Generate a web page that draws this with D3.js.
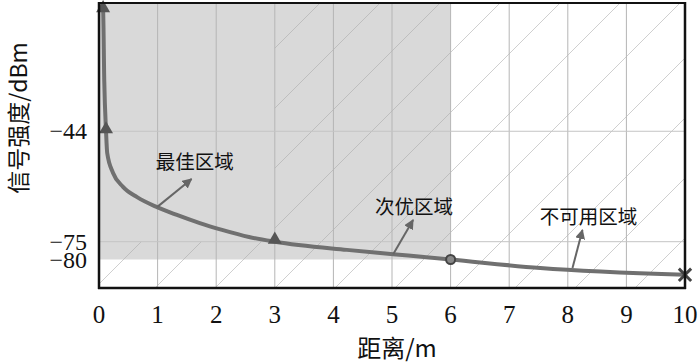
<!DOCTYPE html>
<html>
<head>
<meta charset="utf-8">
<script src="https://cdn.jsdelivr.net/npm/d3@7"></script>
<style>
  body { margin: 0; background: #fff; }
  svg { display: block; }
  .num { font-family: 'Times New Roman', 'Liberation Serif', Tinos, 'DejaVu Serif', 'Noto Serif', serif; }
  .cjk { font-family: 'Noto Sans CJK SC', sans-serif; }
</style>
</head>
<body>
<div class="chart"></div>
<script>
// curve: distance (m) vs signal (dBm)
const distance = [0.05, 0.07, 0.09, 0.12, 0.14, 0.24, 0.41, 0.65, 0.99, 1.33, 1.72, 2.1, 2.56, 3, 4.23, 5.02, 6, 7.53, 10];
const signal   = [-8, -10, -30, -44, -50.1, -55.7, -59.6, -62.5, -65.3, -67.5, -69.8, -71.7, -73.7, -75, -77.3, -78.5, -80, -82.4, -84.3];

const triD = [0.07, 0.12, 3];
const triV = [-10, -44, -75];
const circD = [6];
const circV = [-80];
const crossD = [10];
const crossV = [-84.3];

const xTicks = [0, 1, 2, 3, 4, 5, 6, 7, 8, 9, 10];
const yTicks = [-44, -75, -80];
const yGrid = [-44, -75];

// zones
const bestZone = {d: 3, v: -75};
const subZone = {d: 6, v: -80};

const labels = ['最佳区域', '次优区域', '不可用区域'];
const labelD = [0.97, 4.71, 7.52];
const labelV = [-54.6, -67.2, -70.0];
const arrowFromD = [0.99, 5.02, 8.08];
const arrowFromV = [-65.3, -78.5, -82.4];
const arrowToD = [1.58, 5.36, 8.25];
const arrowToV = [-57.4, -68.9, -71.7];

const width = 700;
const height = 364;
const mLeft = 99, mRight = 685, mTop = 3, mBottom = 288;

const x = d3.scaleLinear().domain([0, 10]).range([mLeft, mRight]);
const y = d3.scaleLinear().domain([-88, -8]).range([mBottom, mTop]);

const svg = d3.select('.chart')
  .append('svg')
  .attr('width', width)
  .attr('height', height);

const defs = svg.append('defs');

// hatched area = everything except best zone
const clip = defs.append('clipPath').attr('id', 'hatchClip');
clip.append('rect')
  .attr('x', x(bestZone.d)).attr('y', mTop)
  .attr('width', x(10) - x(bestZone.d)).attr('height', mBottom - mTop);
clip.append('rect')
  .attr('x', x(0)).attr('y', y(bestZone.v))
  .attr('width', x(bestZone.d) - x(0)).attr('height', mBottom - y(bestZone.v));

defs.append('marker')
  .attr('id', 'arrow')
  .attr('viewBox', '0 0 10 10')
  .attr('refX', 9).attr('refY', 5)
  .attr('markerWidth', 5).attr('markerHeight', 5)
  .attr('markerUnits', 'strokeWidth')
  .attr('orient', 'auto')
  .append('path')
  .attr('d', 'M0,0 L10,5 L0,10 z')
  .attr('fill', '#666');

// gray shaded zone (0..6 m, above -80 dBm)
svg.append('rect')
  .attr('x', x(0))
  .attr('y', y(-8))
  .attr('width', x(subZone.d) - x(0))
  .attr('height', y(subZone.v) - y(-8))
  .attr('fill', '#d9d9d9');

// hatch lines (x + y = const in pixels)
const hatch = svg.append('g').attr('clip-path', 'url(#hatchClip)');
for (let c = 23 - 600; c < 1100; c += 60) {
  hatch.append('line')
    .attr('x1', c - 300).attr('y1', 300)
    .attr('x2', c).attr('y2', 0)
    .attr('stroke', '#a8a8a8')
    .attr('stroke-opacity', 0.55)
    .attr('stroke-width', 1);
}

// grid
svg.selectAll('line.vgrid')
  .data(xTicks.slice(1, -1))
  .enter()
  .append('line')
  .attr('class', 'vgrid')
  .attr('x1', d => x(d)).attr('x2', d => x(d))
  .attr('y1', mTop).attr('y2', mBottom)
  .attr('stroke', '#b5b5b5')
  .attr('stroke-width', 1);

svg.selectAll('line.hgrid')
  .data(yGrid)
  .enter()
  .append('line')
  .attr('class', 'hgrid')
  .attr('x1', mLeft).attr('x2', mRight)
  .attr('y1', d => y(d)).attr('y2', d => y(d))
  .attr('stroke', '#c4c4c4')
  .attr('stroke-width', 1);

// curve
const pts = distance.map((d, i) => [d, signal[i]]);
const line = d3.line()
  .x(d => x(d[0]))
  .y(d => y(d[1]))
  .curve(d3.curveMonotoneX);

svg.append('path')
  .datum(pts)
  .attr('d', line)
  .attr('fill', 'none')
  .attr('stroke', '#707070')
  .attr('stroke-width', 4);

// markers
svg.selectAll('path.tri')
  .data(triD)
  .enter()
  .append('path')
  .attr('class', 'tri')
  .attr('d', d3.symbol().type(d3.symbolTriangle).size(85))
  .attr('transform', (d, i) => `translate(${x(d)},${y(triV[i]) - 2})`)
  .attr('fill', '#555');

svg.selectAll('circle.circ')
  .data(circD)
  .enter()
  .append('circle')
  .attr('class', 'circ')
  .attr('cx', d => x(d))
  .attr('cy', (d, i) => y(circV[i]))
  .attr('r', 4.5)
  .attr('fill', '#888')
  .attr('stroke', '#444')
  .attr('stroke-width', 2);

svg.selectAll('path.cross')
  .data(crossD)
  .enter()
  .append('path')
  .attr('class', 'cross')
  .attr('d', d3.symbol().type(d3.symbolX).size(100))
  .attr('transform', (d, i) => `translate(${x(d)},${y(crossV[i])})`)
  .attr('fill', 'none')
  .attr('stroke', '#444')
  .attr('stroke-width', 3);

// annotations
svg.selectAll('line.arrow')
  .data(labels)
  .enter()
  .append('line')
  .attr('class', 'arrow')
  .attr('x1', (d, i) => x(arrowFromD[i]))
  .attr('y1', (d, i) => y(arrowFromV[i]))
  .attr('x2', (d, i) => x(arrowToD[i]))
  .attr('y2', (d, i) => y(arrowToV[i]))
  .attr('stroke', '#666')
  .attr('stroke-width', 2)
  .attr('marker-end', 'url(#arrow)');

svg.selectAll('text.zone')
  .data(labels)
  .enter()
  .append('text')
  .attr('class', 'zone cjk')
  .text(d => d)
  .attr('x', (d, i) => x(labelD[i]))
  .attr('y', (d, i) => y(labelV[i]))
  .attr('font-size', 19.5)
  .attr('fill', '#111');

// frame
svg.append('line')
  .attr('x1', mLeft).attr('x2', mRight).attr('y1', mTop).attr('y2', mTop)
  .attr('stroke', '#111').attr('stroke-width', 2);
svg.append('line')
  .attr('x1', mLeft).attr('x2', mLeft).attr('y1', mTop - 1).attr('y2', mBottom + 1)
  .attr('stroke', '#111').attr('stroke-width', 2.5);
svg.append('line')
  .attr('x1', mRight).attr('x2', mRight).attr('y1', mTop - 1).attr('y2', mBottom + 1)
  .attr('stroke', '#111').attr('stroke-width', 2.5);
svg.append('line')
  .attr('x1', mLeft - 1).attr('x2', mRight + 1).attr('y1', mBottom).attr('y2', mBottom)
  .attr('stroke', '#111').attr('stroke-width', 2.5);

// tick labels
svg.selectAll('text.xtick')
  .data(xTicks)
  .enter()
  .append('text')
  .attr('class', 'xtick num')
  .text(d => d)
  .attr('x', d => x(d))
  .attr('y', 323)
  .attr('text-anchor', 'middle')
  .attr('font-size', 25)
  .attr('fill', '#111');

svg.selectAll('text.ytick')
  .data(yTicks)
  .enter()
  .append('text')
  .attr('class', 'ytick num')
  .text(d => '\u2212' + Math.abs(d))
  .attr('x', 87)
  .attr('y', d => y(d) + 8)
  .attr('text-anchor', 'end')
  .attr('font-size', 24)
  .attr('fill', '#111');

// axis titles
svg.append('text')
  .attr('class', 'cjk')
  .text('距离/m')
  .attr('x', 397)
  .attr('y', 357)
  .attr('text-anchor', 'middle')
  .attr('font-size', 24)
  .attr('fill', '#111');

svg.append('text')
  .attr('class', 'cjk')
  .text('信号强度/dBm')
  .attr('transform', 'translate(27,118) rotate(-90)')
  .attr('text-anchor', 'middle')
  .attr('font-size', 23)
  .attr('fill', '#111');
</script>
</body>
</html>
